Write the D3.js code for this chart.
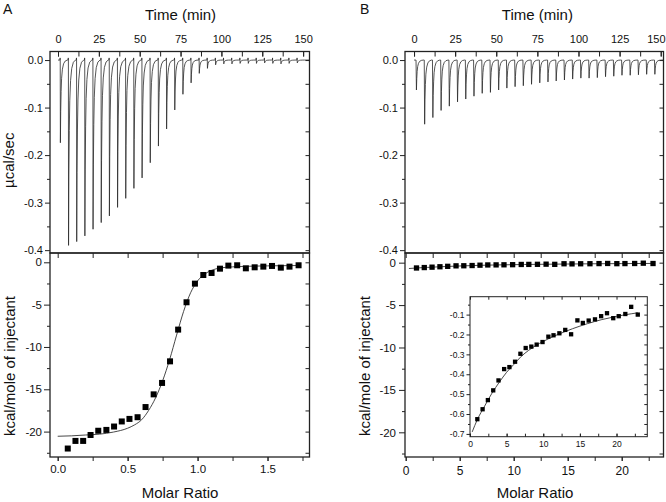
<!DOCTYPE html>
<html><head><meta charset="utf-8">
<script src="https://cdn.jsdelivr.net/npm/d3@7"></script>
<style>body{margin:0;background:#fff}svg{display:block;font-family:"Liberation Sans",Arial,sans-serif}</style>
</head><body><svg id="c" width="666" height="502"></svg>
<script>
// ---------------- data ----------------
const injTimes = [1.2,6.2,11.2,16.2,21.2,26.2,31.2,36.2,41.2,46.2,51.2,56.2,61.2,66.2,71.2,76.2,81.2,86.2,91.2,96.2,101.2,106.2,111.2,116.2,121.2,126.2,131.2,136.2,141.2,146.2];
const peaksA = [-0.174,-0.390,-0.382,-0.370,-0.356,-0.342,-0.328,-0.310,-0.291,-0.270,-0.248,-0.216,-0.181,-0.145,-0.105,-0.072,-0.048,-0.028,-0.0175,-0.010,-0.008,-0.008,-0.007,-0.007,-0.007,-0.006,-0.007,-0.008,-0.007,-0.006];
const peaksB = [-0.063,-0.135,-0.121,-0.106,-0.097,-0.088,-0.082,-0.076,-0.070,-0.068,-0.063,-0.059,-0.056,-0.054,-0.051,-0.048,-0.046,-0.044,-0.042,-0.040,-0.038,-0.038,-0.037,-0.035,-0.034,-0.032,-0.032,-0.031,-0.030,-0.030];

const ratioA = [0.072,0.127,0.182,0.235,0.29,0.348,0.403,0.458,0.513,0.571,0.628,0.686,0.746,0.803,0.861,0.921,0.981,1.041,1.10,1.16,1.22,1.283,1.345,1.408,1.47,1.532,1.595,1.657,1.722];
const heatA = [-22.0,-21.1,-21.1,-20.4,-19.9,-19.8,-19.4,-18.8,-18.5,-18.3,-17.1,-15.6,-14.25,-11.7,-7.95,-4.72,-2.52,-1.5,-1.26,-0.75,-0.39,-0.35,-0.71,-0.59,-0.51,-0.43,-0.63,-0.51,-0.35];
const fitAx = [0.0,0.1,0.2,0.3,0.4,0.5,0.55,0.6,0.65,0.7,0.75,0.8,0.85,0.9,0.95,1.0,1.05,1.1,1.15,1.2,1.3,1.4,1.5,1.6,1.72];
const fitAy = [-20.55,-20.5,-20.4,-20.3,-20.05,-19.6,-19.2,-18.6,-17.5,-16.0,-14.0,-11.5,-8.6,-5.8,-3.6,-2.2,-1.4,-0.95,-0.7,-0.6,-0.5,-0.45,-0.42,-0.4,-0.38];

const ratioB = [1.0,1.72,2.44,3.17,3.89,4.66,5.38,6.15,6.88,7.6,8.37,9.1,9.9,10.7,11.4,12.2,13.0,13.8,14.66,15.4,16.2,17.06,17.9,18.7,19.55,20.3,21.2,22.0,22.9];
const heatB = [-0.626,-0.576,-0.530,-0.481,-0.431,-0.374,-0.364,-0.337,-0.297,-0.268,-0.261,-0.251,-0.238,-0.211,-0.204,-0.194,-0.177,-0.199,-0.129,-0.142,-0.130,-0.124,-0.108,-0.093,-0.118,-0.108,-0.097,-0.061,-0.100];
const fitBx = [0.3,1,2,3,4,5,6,7,8,9,10,11,12,13,14,15,16,17,18,19,20,21,22,22.9];
const fitBy = [-0.69,-0.628,-0.56,-0.495,-0.44,-0.39,-0.35,-0.31,-0.28,-0.255,-0.235,-0.216,-0.2,-0.185,-0.171,-0.158,-0.146,-0.135,-0.125,-0.117,-0.109,-0.102,-0.096,-0.091];

const timeTicks = [0,25,50,75,100,125,150];
const powerTicks = [0,-0.1,-0.2,-0.3,-0.4];
const heatTicks = [0,-5,-10,-15,-20];
const ratioTicksA = [0,0.5,1.0,1.5];
const ratioTicksB = [0,5,10,15,20];
const insetYTicks = [-0.1,-0.2,-0.3,-0.4,-0.5,-0.6,-0.7];
const insetXTicks = [0,5,10,15,20];

// ---------------- drawing ----------------
const svg = d3.select("#c");
const INK = "#222";
const yTop = 51.5, yMid = 253, yBot = 457;

function range(a, b, s) { const r = []; for (let v = a; v <= b + 1e-9; v += s) r.push(+v.toFixed(6)); return r; }

function axis(g, fn, scale, vals, size, pad, fmt, fs) {
  const a = fn(scale).tickValues(vals).tickSizeInner(size).tickSizeOuter(0).tickPadding(pad)
    .tickFormat(fmt || (() => ""));
  g.call(a);
  g.select(".domain").remove();
  g.selectAll("line").attr("stroke", INK).attr("stroke-width", 1);
  g.selectAll("text").attr("fill", "#111").style("font-size", (fs || 11) + "px").attr("font-family", null);
  return g;
}

function frame(x0, x1, y0, y1, sw) {
  svg.append("rect").attr("x", x0).attr("y", y0).attr("width", x1 - x0).attr("height", y1 - y0)
    .attr("fill", "none").attr("stroke", INK).attr("stroke-width", sw || 1.3);
}

const profile = [[0.25,1],[0.45,0.62],[0.7,0.38],[1.0,0.22],[1.5,0.11],[2.2,0.045],[3.2,0.012],[4.5,0]];

function upper(x0, x1, tdom, peaks, blip, ylabel) {
  const x = d3.scaleLinear().domain(tdom).range([x0, x1]);
  const y = d3.scaleLinear().domain([-0.406, 0.018]).range([yMid, yTop]);
  const pts = [[0, 0]];
  injTimes.forEach((t, i) => {
    pts.push([t, 0]);
    if (blip) { pts.push([t + 0.08, blip]); pts.push([t + 0.16, 0]); }
    profile.forEach(p => pts.push([t + p[0], peaks[i] * p[1]]));
  });
  pts.push([tdom[1], 0]);
  svg.append("path").attr("d", d3.line().x(d => x(d[0])).y(d => y(d[1]))(pts))
    .attr("fill", "none").attr("stroke", "#2a2a2a").attr("stroke-width", 0.8);
  // axes
  axis(svg.append("g").attr("transform", `translate(${x0},0)`), d3.axisLeft, y, range(-0.4, 0, 0.05).filter(v => !powerTicks.includes(v)), 3, 2);
  axis(svg.append("g").attr("transform", `translate(${x0},0)`), d3.axisLeft, y, powerTicks, 5, 2, d => d.toFixed(1), 11);
  axis(svg.append("g").attr("transform", `translate(${x1},0)`), d3.axisRight, y, range(-0.4, 0, 0.05), -4, 2);
  axis(svg.append("g").attr("transform", `translate(0,${yTop})`), d3.axisTop, x, range(0, 150, 12.5), -5, 8.5);
  const g = axis(svg.append("g").attr("transform", `translate(0,${yTop})`), d3.axisTop, x, timeTicks, -5, 8.5, d => d, 11);
  // keep the last label inside the page
  g.selectAll("text").filter(d => x(d) > 655).attr("text-anchor", "end").attr("x", 665 - x(150) + 0);
  svg.append("text").attr("x", (x(0) + x(150)) / 2).attr("y", 20).attr("text-anchor", "middle")
    .style("font-size", "15px").attr("fill", "#111").text("Time (min)");
  if (ylabel) {
    svg.append("text").attr("transform", `translate(14,${(yTop + yMid) / 2 + 8}) rotate(-90)`)
      .attr("text-anchor", "middle").style("font-size", "15px").attr("fill", "#111").text(ylabel);
  }
}

function squares(x, y, xs, ys, s) {
  svg.append("g").selectAll("rect").data(xs).join("rect")
    .attr("x", (d, i) => x(d) - s / 2).attr("y", (d, i) => y(ys[i]) - s / 2)
    .attr("width", s).attr("height", s).attr("fill", "#000");
}
function fit(x, y, xs, ys) {
  svg.append("path").attr("d", d3.line().curve(d3.curveMonotoneX).x(d => x(d)).y((d, i) => y(ys[i]))(xs))
    .attr("fill", "none").attr("stroke", "#333").attr("stroke-width", 0.9);
}

// ----- Panel A -----
upper(50, 309.5, [-4.9, 153.9], peaksA, 0.0045, "µcal/sec");
{
  const x = d3.scaleLinear().domain([-0.055, 1.80]).range([50, 309.5]);
  const y = d3.scaleLinear().domain([-23.0, 1.1]).range([yBot, yMid]);
  fit(x, y, fitAx, fitAy);
  squares(x, y, ratioA, heatA, 6);
  axis(svg.append("g").attr("transform", "translate(50,0)"), d3.axisLeft, y, [-2.5, -7.5, -12.5, -17.5, -22.5], 3, 2);
  axis(svg.append("g").attr("transform", "translate(50,0)"), d3.axisLeft, y, heatTicks, 6, 2, d => d, 11.5);
  axis(svg.append("g").attr("transform", "translate(309.5,0)"), d3.axisRight, y, range(-22.5, 0, 2.5), -4, 2);
  axis(svg.append("g").attr("transform", `translate(0,${yMid})`), d3.axisTop, x, range(0, 1.75, 0.25), -5, 2);
  axis(svg.append("g").attr("transform", `translate(0,${yBot})`), d3.axisBottom, x, range(0, 1.75, 0.25), 4, 4);
  axis(svg.append("g").attr("transform", `translate(0,${yBot})`), d3.axisBottom, x, ratioTicksA, 4, 4, d => d.toFixed(1), 11.5);
  svg.append("text").attr("x", 180).attr("y", 498).attr("text-anchor", "middle").style("font-size", "15px").attr("fill", "#111").text("Molar Ratio");
  svg.append("text").attr("transform", `translate(15,366) rotate(-90)`).attr("text-anchor", "middle").style("font-size", "15px").attr("fill", "#111").text("kcal/mole of injectant");
  frame(50, 309.5, yTop, yMid);
  frame(50, 309.5, yMid, yBot);
  svg.append("text").attr("x", 3).attr("y", 14).style("font-size", "14px").attr("fill", "#111").text("A");
}

// ----- Panel B -----
upper(405, 663.5, [-5.5, 151.7], peaksB, 0, null);
{
  const x = d3.scaleLinear().domain([-0.065, 23.87]).range([405, 663.5]);
  const y = d3.scaleLinear().domain([-22.91, 1.14]).range([yBot, yMid]);
  fit(x, y, fitBx, fitBy);
  squares(x, y, ratioB, heatB, 5.3);
  axis(svg.append("g").attr("transform", "translate(405,0)"), d3.axisLeft, y, [-2.5, -7.5, -12.5, -17.5, -22.5], 3, 3);
  axis(svg.append("g").attr("transform", "translate(405,0)"), d3.axisLeft, y, heatTicks, 6, 3, d => d, 11.5);
  axis(svg.append("g").attr("transform", "translate(663.5,0)"), d3.axisRight, y, range(-22.5, 0, 2.5), -4, 2);
  axis(svg.append("g").attr("transform", `translate(0,${yMid})`), d3.axisTop, x, range(0, 22.5, 2.5), -5, 2);
  axis(svg.append("g").attr("transform", `translate(0,${yBot})`), d3.axisBottom, x, range(0, 22.5, 2.5), 4, 5, null);
  axis(svg.append("g").attr("transform", `translate(0,${yBot})`), d3.axisBottom, x, ratioTicksB, 4, 5, d => d, 12);
  svg.append("text").attr("x", 535).attr("y", 498).attr("text-anchor", "middle").style("font-size", "15px").attr("fill", "#111").text("Molar Ratio");
  svg.append("text").attr("transform", `translate(370,366) rotate(-90)`).attr("text-anchor", "middle").style("font-size", "15px").attr("fill", "#111").text("kcal/mole of injectant");
  frame(405, 663.5, yTop, yMid);
  frame(405, 663.5, yMid, yBot);
  svg.append("text").attr("x", 360).attr("y", 14).style("font-size", "14px").attr("fill", "#111").text("B");

  // inset
  const ix0 = 470, ix1 = 647.3, iy0 = 296.7, iy1 = 436.7;
  svg.append("rect").attr("x", ix0).attr("y", iy0).attr("width", ix1 - ix0).attr("height", iy1 - iy0).attr("fill", "#fff");
  const xi = d3.scaleLinear().domain([0, 24.2]).range([ix0, ix1]);
  const yi = d3.scaleLinear().domain([-0.714, -0.01]).range([iy1, iy0]);
  fit(xi, yi, fitBx, fitBy);
  squares(xi, yi, ratioB, heatB, 4.3);
  axis(svg.append("g").attr("transform", `translate(${ix0},0)`), d3.axisLeft, yi, range(-0.65, -0.05, 0.1), 2, 2);
  axis(svg.append("g").attr("transform", `translate(${ix0},0)`), d3.axisLeft, yi, insetYTicks, 3.5, 2, d => d.toFixed(1), 8.5);
  axis(svg.append("g").attr("transform", `translate(${ix1},0)`), d3.axisRight, yi, range(-0.7, -0.05, 0.05), -3, 2);
  axis(svg.append("g").attr("transform", `translate(0,${iy0})`), d3.axisTop, xi, range(0, 22.5, 2.5), -3, 2);
  axis(svg.append("g").attr("transform", `translate(0,${iy1})`), d3.axisBottom, xi, range(0, 22.5, 2.5), -3, 4);
  axis(svg.append("g").attr("transform", `translate(0,${iy1})`), d3.axisBottom, xi, insetXTicks, -3, 4.3, d => d, 8.5);
  frame(ix0, ix1, iy0, iy1, 1);
}
</script></body></html>
